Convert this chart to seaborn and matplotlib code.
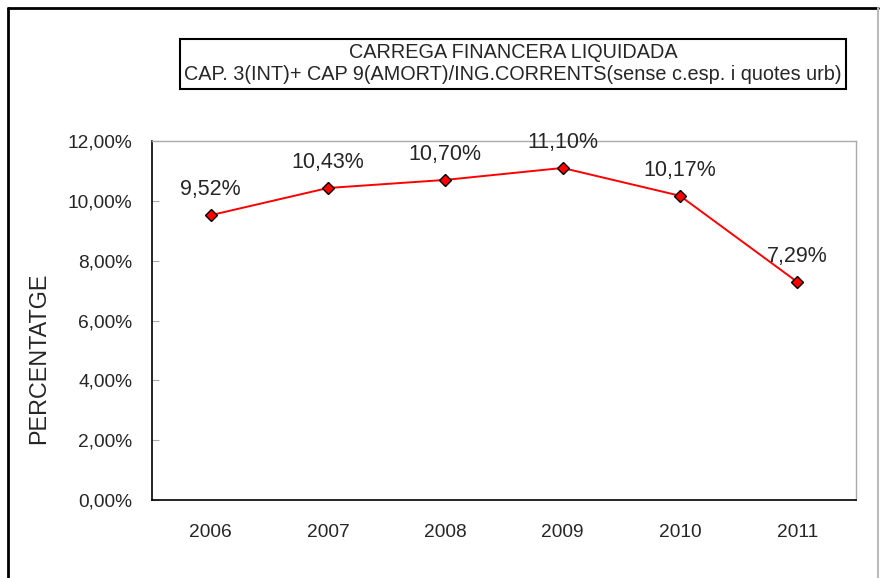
import pandas as pd
import matplotlib.pyplot as plt
import seaborn as sns
from matplotlib.lines import Line2D

# chart values
years = ['2006', '2007', '2008', '2009', '2010', '2011']
carrega = [9.52, 10.43, 10.70, 11.10, 10.17, 7.29]
y_ticks = [0, 2, 4, 6, 8, 10, 12]

df = pd.DataFrame({'any': years, 'carrega': carrega})

sns.set_style('white')
plt.rcParams['font.family'] = ['Liberation Sans', 'DejaVu Sans']

fig = plt.figure(figsize=(8.81, 5.78), dpi=100)
ax = fig.add_axes([0.1725, 0.135, 0.799, 0.621])

sns.lineplot(data=df, x='any', y='carrega', ax=ax, sort=False, color='red',
             linewidth=1.4, marker='D', markersize=6.5,
             markerfacecolor='red', markeredgecolor='black', markeredgewidth=1)

for i, v in enumerate(carrega):
    ax.annotate(f'{v:.2f}%'.replace('.', ','), (i, v), xytext=(0, 18.5),
                textcoords='offset points', ha='center', va='center', fontsize=15.5)

ax.set_xlim(-0.5, len(years) - 0.5)
ax.set_ylim(0, 12)
ax.set_yticks(y_ticks)
ax.set_yticklabels([f'{t:.2f}%'.replace('.', ',') for t in y_ticks], fontsize=13.8)
ax.set_xticks(range(len(years)))
ax.set_xticklabels(years, fontsize=13.8)
ax.set_xticks([i + 0.5 for i in range(len(years) - 1)], minor=True)
ax.tick_params(axis='x', which='major', length=0, pad=17)
ax.tick_params(axis='x', which='minor', direction='in', length=5, color='#aaaaaa')
ax.tick_params(axis='y', direction='in', length=5, color='#aaaaaa', pad=14, left=True)

ax.set_xlabel('')
ax.set_ylabel('PERCENTATGE', fontsize=16.8)
ax.yaxis.set_label_coords(-0.145, 0.395)

for side in ['left', 'bottom']:
    ax.spines[side].set_color('black')
    ax.spines[side].set_linewidth(1.2)
for side in ['top', 'right']:
    ax.spines[side].set_color('#aaaaaa')
    ax.spines[side].set_linewidth(1)

# title box
fig.text(513 / 881, 1 - 64 / 578,
         'CARREGA FINANCERA LIQUIDADA\nCAP. 3(INT)+ CAP 9(AMORT)/ING.CORRENTS(sense c.esp. i quotes urb)',
         ha='center', va='center', fontsize=14.3, linespacing=1.2,
         bbox=dict(boxstyle='square,pad=0.22', facecolor='white', edgecolor='black', linewidth=1.5))

# outer frame
W, H = 881, 578
fig.add_artist(Line2D([8 / W, 8 / W], [0, 1 - 8 / H], color='black', lw=2, transform=fig.transFigure))
fig.add_artist(Line2D([8 / W, 878 / W], [1 - 8 / H, 1 - 8 / H], color='black', lw=2, transform=fig.transFigure))
fig.add_artist(Line2D([878 / W, 878 / W], [0, 1 - 8 / H], color='#bbbbbb', lw=1.5, transform=fig.transFigure))

fig.savefig('out.png', dpi=100)
